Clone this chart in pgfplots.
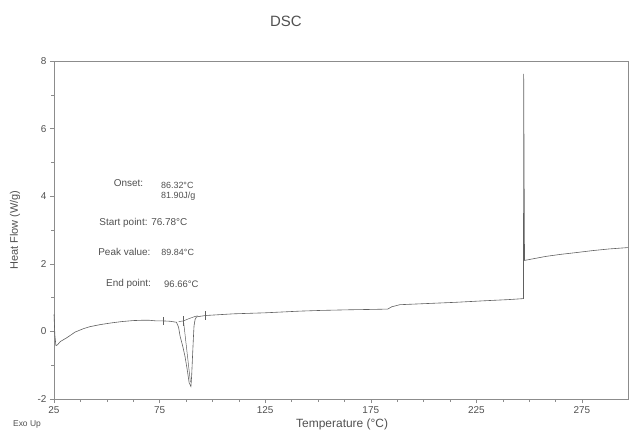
\documentclass[border=0pt]{standalone}
\usepackage{pgfplots}
\pgfplotsset{compat=1.18}
\usepackage{fontspec}
\setmainfont{Liberation Sans}
\definecolor{txt}{HTML}{505050}
\definecolor{ln}{HTML}{606060}
\definecolor{ax}{HTML}{8C8C8C}
\begin{document}
\begin{tikzpicture}
\useasboundingbox (-54bp,-32bp) rectangle (576bp,399bp);
\begin{axis}[
 scale only axis, width=574bp, height=338bp,
 xmin=25, xmax=296.8, ymin=-2, ymax=8,
 xtick={25,75,...,275}, ytick={-2,0,...,8},
 minor x tick num=3, minor y tick num=1,
 tick pos=left, tick align=outside,
 major tick length=4bp, minor tick length=2.5bp,
 every tick/.style={ax, line width=0.5pt},
 axis line style={ax, line width=0.6pt},
 tick label style={font=\fontsize{10}{12}\selectfont, text=txt},
 /pgf/number format/assume math mode=true,
 xlabel={Temperature (°C)},
 xlabel style={at={(rel axis cs:0.502,-0.074)}, anchor=center, font=\fontsize{12}{14}\selectfont, text=txt},
 ylabel={Heat Flow (W/g)},
 ylabel style={at={(rel axis cs:-0.068,0.5)}, anchor=center, font=\fontsize{11}{13}\selectfont, text=txt},
 clip=false,
]
\addplot[ln, line width=0.6pt] coordinates {
(25,0.5) (25.4,-0.1) (25.9,-0.42) (26.6,-0.40) (28,-0.30) (31,-0.19) (35,-0.02) (38.9,0.08)
(42,0.14) (46.8,0.20) (52,0.25) (57,0.29) (62.4,0.32) (67,0.33) (70,0.33) (73.5,0.31)
(76.8,0.31) (80,0.30) (83,0.27) (84,0.12) (84.7,-0.14) (86,-0.45) (87,-0.73) (88,-1.1)
(89,-1.52) (89.84,-1.63) (90.2,-1.3) (90.6,-0.73) (91.0,-0.2) (91.3,0.16) (91.8,0.35)
(92.5,0.43) (96.7,0.47) (110,0.52) (125,0.55) (141.5,0.60)
(151,0.62) (165,0.64) (175,0.65) (183,0.66) (185,0.73) (188.8,0.79) (200,0.82)
(215,0.86) (230,0.91) (240,0.94) (247.3,0.97) (247.4,7.62) (247.8,2.1) (252,2.15)
(258,2.22) (265,2.28) (272,2.33) (280,2.39) (288,2.44) (296.8,2.48)
};
\addplot[ln, line width=0.5pt] coordinates {(84,0.29) (86.3,0.31) (89,0.38) (91.7,0.44) (93,0.46)};
\addplot[ln, line width=0.5pt] coordinates {(86.32,0.31) (89.6,-1.5)};
\addplot[ln, line width=0.5pt] coordinates {(76.78,0.20) (76.78,0.42)};
\addplot[ln, line width=0.5pt] coordinates {(86.32,0.17) (86.32,0.45)};
\addplot[ln, line width=0.5pt] coordinates {(96.66,0.35) (96.66,0.60)};
\begin{scope}[every node/.style={font=\fontsize{10}{12}\selectfont, text=txt, anchor=west, inner sep=0pt}]
\node at (axis cs:53.2,4.38) {Onset:};
\node[font=\fontsize{9}{11}\selectfont] at (axis cs:75.6,4.32) {86.32°C};
\node[font=\fontsize{9}{11}\selectfont] at (axis cs:75.6,4.0) {81.90J/g};
\node at (axis cs:46.4,3.2) {Start point: 76.78°C};
\node at (axis cs:45.9,2.34) {Peak value:};
\node[font=\fontsize{9}{11}\selectfont] at (axis cs:75.8,2.34) {89.84°C};
\node at (axis cs:49.6,1.39) {End point:};
\node[font=\fontsize{9.5}{11}\selectfont] at (axis cs:77.1,1.39) {96.66°C};
\end{scope}
\node[font=\fontsize{15}{17}\selectfont, text=txt] at ([yshift=40bp]rel axis cs:0.404,1) {DSC};
\node[font=\fontsize{8.5}{10}\selectfont, text=txt] at ([xshift=-27bp,yshift=-25bp]rel axis cs:0,0) {Exo Up};
\end{axis}
\end{tikzpicture}
\end{document}
